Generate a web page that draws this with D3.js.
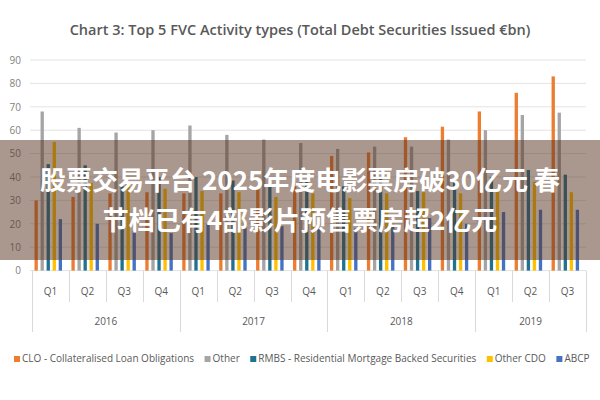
<!DOCTYPE html>
<html><head><meta charset="utf-8">
<script src="https://cdn.jsdelivr.net/npm/d3@7"></script>
<style>
html,body{margin:0;padding:0;background:#fff;}
svg{display:block;}
</style></head>
<body>
<script>
const quarters = ["Q1","Q2","Q3","Q4","Q1","Q2","Q3","Q4","Q1","Q2","Q3","Q4","Q1","Q2","Q3"];
const years = ["2016","2017","2018","2019"];
const yearQuarterCounts = [4,4,4,3];
const seriesNames = ["CLO - Collateralised Loan Obligations","Other","RMBS - Residential Mortgage Backed Securities","Other CDO","ABCP"];
const seriesColors = ["#ED7D31","#A5A5A5","#1F7391","#FFC000","#4472C4"];
const cloValues   = [30, 31.5, 33, 33.5, 33, 33, 35, 36, 49, 50.5, 57, 61.5, 68, 76, 83];
const otherValues = [68, 61, 59, 60, 62, 58, 56, 54.5, 52, 53, 53, 56, 60, 66.5, 67.5];
const rmbsValues  = [45.5, 45, 36, 40, 40, 38.5, 37, 38, 36, 40, 34, 39, 40, 43, 41];
const cdoValues   = [55, 37.5, 37, 35, 34, 33.5, 31.5, 33, 31, 33, 33.5, 33, 34, 38, 33.5];
const abcpValues  = [22, 20, 17, 16, 20, 20, 19, 18, 18, 20, 22.5, 20, 25, 26, 26];
const yTicks = [0,10,20,30,40,50,60,70,80,90];
const titleText = "Chart 3: Top 5 FVC Activity types (Total Debt Securities Issued €bn)";
const bannerLines = ["股票交易平台 2025年度电影票房破30亿元 春","节档已有4部影片预售票房超2亿元"];

const allSeries = [cloValues, otherValues, rmbsValues, cdoValues, abcpValues];
const W = 600, H = 400;
const font = "'Open Sans',sans-serif";
const txt = "#595959";

const svg = d3.select("body").append("svg").attr("width", W).attr("height", H);

const groups = quarters.map((q,i)=>i);
const x0 = d3.scaleBand().domain(groups).range([32, 586]).padding(0);
const x1 = d3.scaleBand().domain(d3.range(5)).range([2.5, 30]).paddingInner(0.45);
const y = d3.scaleLinear().domain([0, 90]).range([270.6, 60]);

// gridlines
svg.append("g").selectAll("line").data(yTicks).join("line")
  .attr("x1", 30).attr("x2", 586)
  .attr("y1", d=>y(d)).attr("y2", d=>y(d))
  .attr("stroke", "#e3e3e3").attr("stroke-width", 1);

// y axis labels
const yAxis = d3.axisLeft(y).tickValues(yTicks).tickSize(0).tickPadding(0);
const yg = svg.append("g").attr("transform","translate(21,0)").call(yAxis);
yg.select(".domain").remove();
yg.selectAll("text").attr("font-family", font).attr("font-size", 10).attr("fill", "#7f7f7f");

// bars
const gBars = svg.append("g");
groups.forEach(gi=>{
  allSeries.forEach((vals, si)=>{
    gBars.append("rect")
      .attr("x", x0(gi) + x1(si))
      .attr("width", x1.bandwidth())
      .attr("y", y(vals[gi]))
      .attr("height", y(0) - y(vals[gi]))
      .attr("fill", seriesColors[si]);
  });
});

// category axis: quarter separators & year separators
const sep = svg.append("g").attr("stroke", "#d9d9d9").attr("stroke-width", 1);
let yearStarts = [0];
yearQuarterCounts.reduce((a,c)=>{yearStarts.push(a+c); return a+c;}, 0);
const yearBoundaryIdx = new Set(yearStarts);
for (let i = 0; i <= quarters.length; i++) {
  const xx = (i < quarters.length ? x0(i) : x0(quarters.length-1) + x0.bandwidth());
  const isYear = yearBoundaryIdx.has(i);
  sep.append("line").attr("x1", Math.round(xx)+0.5).attr("x2", Math.round(xx)+0.5)
    .attr("y1", 270.6).attr("y2", isYear ? 332 : 302);
}
svg.append("g").selectAll("text").data(quarters).join("text")
  .attr("x", (d,i)=>x0(i)+x0.bandwidth()/2).attr("y", 295)
  .attr("text-anchor","middle").attr("font-family", font).attr("font-size", 10).attr("fill", txt)
  .text(d=>d);
svg.append("g").selectAll("text").data(years).join("text")
  .attr("x", (d,i)=>{ const a = x0(yearStarts[i]); const b = x0(yearStarts[i+1]-1)+x0.bandwidth(); return (a+b)/2; })
  .attr("y", 325)
  .attr("text-anchor","middle").attr("font-family", font).attr("font-size", 10).attr("fill", txt)
  .text(d=>d);

// title
svg.append("text").attr("x", 300).attr("y", 35).attr("text-anchor","middle")
  .attr("font-family", font).attr("font-size", 14.5).attr("font-weight", 600).attr("fill", txt)
  .text(titleText);

// legend
const leg = svg.append("g").attr("transform","translate(14,362)");
let lx = 0;
seriesNames.forEach((name, i)=>{
  const it = leg.append("g").attr("transform", `translate(${lx},0)`);
  it.append("rect").attr("x", 0).attr("y", -6).attr("width", 6).attr("height", 6).attr("fill", seriesColors[i]);
  const t = it.append("text").attr("x", 8).attr("y", 0).attr("font-family", font).attr("font-size", 10).attr("fill", txt).text(name);
  lx += 8 + t.node().getComputedTextLength() + 10.5;
});

// overlay banner
svg.append("rect").attr("x", 0).attr("y", 140).attr("width", W).attr("height", 120)
  .attr("fill", "rgba(85,50,30,0.5)");
svg.append("g").selectAll("text").data(bannerLines).join("text")
  .attr("x", 300).attr("y", (d,i)=>190 + i*40)
  .attr("text-anchor","middle").attr("font-family","'Noto Sans CJK SC',sans-serif")
  .attr("font-size", 26).attr("font-weight","bold").attr("fill","#fff")
  .text(d=>d);
</script>
</body></html>
